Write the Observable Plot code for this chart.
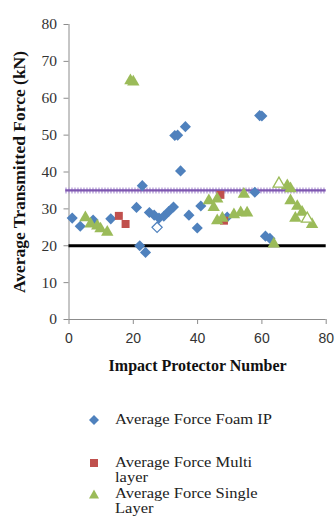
<!DOCTYPE html>
<html>
<head>
<meta charset="utf-8">
<script src="https://cdn.jsdelivr.net/npm/d3@7"></script>
<script src="https://cdn.jsdelivr.net/npm/@observablehq/plot@0.6"></script>
<style>
  html, body { margin: 0; padding: 0; background: #fff; }
  #wrap { position: relative; width: 335px; height: 519px; overflow: hidden; }
  #legend { position: absolute; left: 88px; top: 0; font-family: "Liberation Serif", "Times New Roman", serif; font-size: 15px; color: #222; }
  .item { position: absolute; left: 0; white-space: nowrap; }
  .item svg { position: absolute; left: 0; top: 2px; }
  .txt { position: absolute; left: 27px; top: 0; line-height: 15px; transform: scaleX(1.1); transform-origin: left top; }
  g[aria-label="y-axis tick label"] text { font-family: "Liberation Serif", serif; font-size: 15.5px; }
  g[aria-label="x-axis tick label"] text { font-family: "Liberation Sans", sans-serif; font-size: 14px; }
</style>
</head>
<body>
<div id="wrap">
  <div id="chart"></div>
  <div id="legend"></div>
</div>
<script>
// ---- data ----
const foamX = [1, 3.5, 7.5, 13, 21, 22.8, 22, 23.8, 25, 26.5, 28, 29.5, 31, 32.5, 32.9, 33.8, 36.2, 34.7, 37.3, 39.9, 41, 49.2, 57.8, 59.3, 60, 61.1, 62.5];
const foamY = [27.5, 25.3, 27, 27.3, 30.4, 36.3, 20, 18.2, 29, 28.3, 27.5, 28, 29.3, 30.5, 49.9, 50, 52.3, 40.3, 28.3, 24.8, 30.8, 27.8, 34.5, 55.3, 55.2, 22.6, 22];
const foamOpenX = [27.4];
const foamOpenY = [25];
const multiX = [15.5, 17.6, 47.1, 48.2];
const multiY = [28.1, 25.9, 33.8, 26.8];
const singleX = [5.1, 6.7, 8.8, 9.8, 11.9, 19.1, 20, 43.5, 45, 46.1, 46.1, 47.7, 51.3, 53.4, 54.4, 55.4, 67.9, 68.9, 68.9, 71, 70.4, 72.5, 75.6, 63.7];
const singleY = [27.6, 25.9, 25.4, 24.6, 23.7, 64.8, 64.4, 32.2, 30.4, 32.7, 26.8, 27.5, 28.4, 29, 34, 28.9, 36.3, 35.5, 32.2, 30.7, 27.5, 29.1, 25.8, 20.5];
const singleOpenX = [65.3, 74.1];
const singleOpenY = [36.8, 27.3];
const upperLimit = 35;
const lowerLimit = 20;
const xTicks = [0, 20, 40, 60, 80];
const yTicks = [0, 10, 20, 30, 40, 50, 60, 70, 80];
const seriesNames = ["Average Force Foam IP", "Average Force Multi layer", "Average Force Single Layer"];
const legendLines = [["Average Force Foam IP"], ["Average Force Multi", "layer"], ["Average Force Single", "Layer"]];
const xTitle = "Impact Protector Number";
const yTitle = "Average Transmitted Force (kN)";

const BLUE = "#4F81BD", RED = "#C0504D", GREEN = "#9BBB59", PURPLE = "#7E57B0", AXIS = "#8C8C8C";

const pts = (xs, ys) => xs.map((x, i) => ({x, y: ys[i]}));
const foam = pts(foamX, foamY);
const foamOpen = pts(foamOpenX, foamOpenY);
const multi = pts(multiX, multiY);
const single = pts(singleX, singleY);
const singleOpen = pts(singleOpenX, singleOpenY);

const chart = Plot.plot({
  width: 335,
  height: 385,
  marginLeft: 68.5,
  marginRight: 9.3,
  marginTop: 24,
  marginBottom: 66,
  style: {background: "#fff", overflow: "visible"},
  x: {domain: [0, 80]},
  y: {domain: [0, 80]},
  marks: [
    Plot.ruleX([0], {stroke: AXIS, strokeWidth: 1}),
    Plot.ruleY([0], {stroke: AXIS, strokeWidth: 1}),
    Plot.axisY({ticks: yTicks, tickSize: 5, tickPadding: 7, stroke: AXIS, fill: "#333", fontSize: 15.5, fontFamily: "Liberation Serif, serif", label: null}),
    Plot.axisX({ticks: xTicks, tickSize: 5, tickPadding: 9, stroke: AXIS, fill: "#333", fontSize: 14, fontFamily: "Liberation Sans, sans-serif", label: null}),
    Plot.ruleY([lowerLimit], {x1: 0, x2: 80, stroke: "#000", strokeWidth: 3}),
    Plot.ruleY([upperLimit], {x1: -1, x2: 80, stroke: "#B9A3DA", strokeWidth: 6, strokeDasharray: "1.4,1.6"}),
    Plot.ruleY([upperLimit], {x1: -1, x2: 80, stroke: PURPLE, strokeWidth: 2.2}),
    Plot.dot(foam, {x: "x", y: "y", symbol: "diamond2", r: 5, fill: BLUE, stroke: null}),
    Plot.dot(foamOpen, {x: "x", y: "y", symbol: "diamond2", r: 4.6, fill: "#fff", stroke: BLUE, strokeWidth: 1.2}),
    Plot.dot(multi, {x: "x", y: "y", symbol: "square", r: 4.5, fill: RED, stroke: null}),
    Plot.dot(single, {x: "x", y: "y", symbol: "triangle", r: 4.6, fill: GREEN, stroke: null}),
    Plot.dot(singleOpen, {x: "x", y: "y", symbol: "triangle", r: 4.3, fill: "#fff", stroke: GREEN, strokeWidth: 1.3}),
    Plot.text([xTitle], {frameAnchor: "bottom", dy: 51, textAnchor: "middle", fontSize: 16, fontWeight: "bold", fontFamily: "Liberation Serif, serif", fill: "#111"}),
    Plot.text([yTitle], {frameAnchor: "left", dx: -50, textAnchor: "middle", rotate: -90, fontSize: 17.5, fontWeight: "bold", fontFamily: "Liberation Serif, serif", fill: "#111"})
  ]
});
document.getElementById("chart").appendChild(chart);

// ---- legend ----
const legendMarks = [
  `<svg width="12" height="12"><path d="M6,1 L11,6 L6,11 L1,6 Z" fill="${BLUE}"/></svg>`,
  `<svg width="12" height="12"><rect x="2" y="2" width="8" height="8" fill="${RED}"/></svg>`,
  `<svg width="12" height="12"><path d="M6,1.5 L11,10.5 L1,10.5 Z" fill="${GREEN}"/></svg>`
];
const legendTops = [412, 455, 486];
const legend = document.getElementById("legend");
seriesNames.forEach((name, i) => {
  const div = document.createElement("div");
  div.className = "item";
  div.style.top = legendTops[i] + "px";
  div.innerHTML = legendMarks[i] + `<div class="txt">${legendLines[i].join("<br>")}</div>`;
  legend.appendChild(div);
});
</script>
</body>
</html>
